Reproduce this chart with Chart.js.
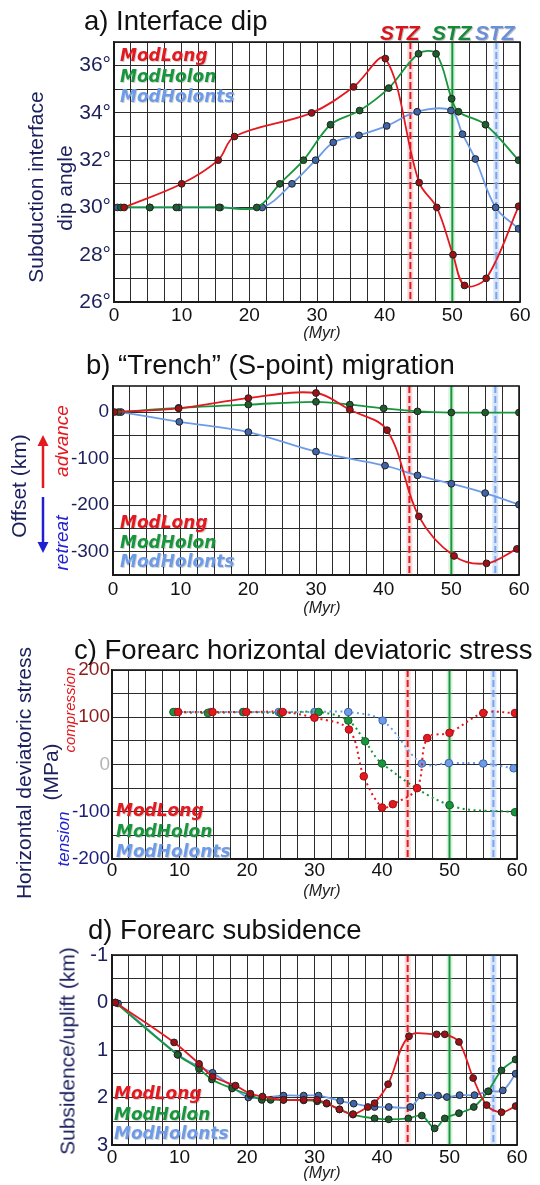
<!DOCTYPE html>
<html><head><meta charset="utf-8">
<script src="https://cdn.jsdelivr.net/npm/chart.js@4.4.1/dist/chart.umd.min.js"></script>
<style>
body{margin:0;background:#fff;}
#wrap{position:relative;width:540px;height:1185px;overflow:hidden;font-family:'Liberation Sans',Arial,sans-serif;}
canvas{position:absolute;left:0;}
.t{position:absolute;white-space:nowrap;line-height:1;}
.title{font-size:27.5px;color:#111;}
.rot{transform:translate(-50%,-50%) rotate(-90deg);}
.yt{font-size:21px;color:#1b1f5c;}
.leg{font-family:'DejaVu Sans',sans-serif;font-weight:bold;font-style:italic;font-size:17px;text-shadow:1px 1px 0 rgba(0,0,0,0.18);}
.myr{font-size:16px;font-style:italic;color:#222;transform:translateX(-50%);}
.stz{font-weight:bold;font-style:italic;font-size:21px;text-shadow:1px 1px 0 rgba(0,0,0,0.25);}
</style></head>
<body><div id="wrap">
<canvas id="cA" width="540" height="345" style="top:0px"></canvas>
<canvas id="cB" width="540" height="275" style="top:345px"></canvas>
<canvas id="cC" width="540" height="265" style="top:620px"></canvas>
<canvas id="cD" width="540" height="300" style="top:885px"></canvas>

<div class="t title" style="left:84px;top:7px">a) Interface dip</div>
<div class="t title" style="left:86px;top:351px">b) “Trench” (S-point) migration</div>
<div class="t title" style="left:74px;top:636px">c) Forearc horizontal deviatoric stress</div>
<div class="t title" style="left:88px;top:916px">d) Forearc subsidence</div>

<div class="t stz" style="left:380px;top:22px;color:#d9151c">STZ</div>
<div class="t stz" style="left:432px;top:22px;color:#178a3a">STZ</div>
<div class="t stz" style="left:475px;top:22px;color:#6a8fd9">STZ</div>

<div class="t yt rot" style="left:35px;top:187px">Subduction interface</div>
<div class="t yt rot" style="left:64px;top:188px">dip angle</div>
<div class="t yt rot" style="left:18px;top:486px">Offset (km)</div>
<div class="t rot" style="left:61px;top:441px;font-size:19px;font-style:italic;color:#e3191f">advance</div>
<div class="t rot" style="left:61px;top:543px;font-size:19px;font-style:italic;color:#2020d0">retreat</div>
<svg style="position:absolute;left:34px;top:432px" width="18" height="126">
  <line x1="9" y1="56" x2="9" y2="10" stroke="#e3191f" stroke-width="2.5"/>
  <polygon points="9,3 3.5,14 14.5,14" fill="#e3191f"/>
  <line x1="9" y1="65" x2="9" y2="112" stroke="#2020d0" stroke-width="2.5"/>
  <polygon points="9,121 3.5,110 14.5,110" fill="#2020d0"/>
</svg>
<div class="t yt rot" style="left:23px;top:773px">Horizontal deviatoric stress</div>
<div class="t yt rot" style="left:50px;top:772px">(MPa)</div>
<div class="t rot" style="left:69px;top:710px;font-size:15px;font-style:italic;color:#e3191f">compression</div>
<div class="t rot" style="left:63px;top:839px;font-size:17px;font-style:italic;color:#2020d0">tension</div>
<div class="t yt rot" style="left:67px;top:1051px">Subsidence/uplift (km)</div>

<div class="t myr" style="left:322px;top:325px">(Myr)</div>
<div class="t myr" style="left:322px;top:600px">(Myr)</div>
<div class="t myr" style="left:322px;top:883px">(Myr)</div>
<div class="t myr" style="left:322px;top:1165px">(Myr)</div>

<div class="t leg" style="left:120px;top:47px;color:#e3191f">ModLong</div>
<div class="t leg" style="left:120px;top:68px;color:#17963c">ModHolon</div>
<div class="t leg" style="left:120px;top:88px;color:#6d9be8">ModHolonts</div>
<div class="t leg" style="left:120px;top:514px;color:#e3191f">ModLong</div>
<div class="t leg" style="left:120px;top:534px;color:#17963c">ModHolon</div>
<div class="t leg" style="left:120px;top:553px;color:#6d9be8">ModHolonts</div>
<div class="t leg" style="left:116px;top:802px;color:#e3191f">ModLong</div>
<div class="t leg" style="left:116px;top:823px;color:#17963c">ModHolon</div>
<div class="t leg" style="left:116px;top:843px;color:#6d9be8">ModHolonts</div>
<div class="t leg" style="left:114px;top:1085px;color:#e3191f">ModLong</div>
<div class="t leg" style="left:114px;top:1106px;color:#17963c">ModHolon</div>
<div class="t leg" style="left:114px;top:1125px;color:#6d9be8">ModHolonts</div>
</div>
<script>
// ---------- data ----------
const stzX = [43.8, 50, 56.5];

// a) Interface dip (degrees)
const aLongX = [1.5, 10, 15.4, 17.8, 29.2, 35.4, 40.1, 45.1, 47.7, 50.1, 51.8, 55, 59.8];
const aLongY = [30, 31, 32, 33, 34, 35.1, 36.3, 31.05, 30, 28, 26.7, 27, 30.05];
const aHolonX = [1, 5.3, 9.2, 15.5, 21.1, 24.5, 28, 32, 36.3, 40.6, 45, 47.6, 49.9, 50.9, 54.9, 59.8];
const aHolonY = [30, 30, 30, 30, 30, 31, 32, 33.5, 34.1, 35.05, 36.5, 36.5, 34.6, 34.05, 33.5, 32];
const aHolontsX = [0.5, 5.3, 9.6, 15.7, 21.9, 26.3, 29.8, 32.4, 36.2, 40.3, 44.8, 49.8, 51.5, 53.4, 56.4, 59.8];
const aHolontsY = [30, 30, 30, 30, 30, 31, 32, 32.75, 33.05, 33.45, 34.05, 34.1, 33.1, 32.05, 30, 29.1];

// b) Trench migration (km)
const bLongX = [0.2, 9.7, 20, 30, 35, 40.5, 45.2, 50.4, 55.2, 59.7];
const bLongY = [0, 8, 30, 41, 5, -39, -224, -309, -325, -294];
const bHolonX = [0.8, 9.7, 20, 30, 35, 40, 45, 50, 55, 60];
const bHolonY = [0, 9, 16, 22, 16, 8, 1.5, -1, -1, -1];
const bHolontsX = [1.2, 9.8, 20, 30, 40.2, 45, 50, 55, 60];
const bHolontsY = [0, -21, -43, -85, -115, -136, -154, -174, -199];
const bGridY = [-350, -300, -250, -200, -150, -100, -50, 0];

// c) Forearc stress (MPa)
const cLongX = [9.8, 14.9, 19.9, 25.3, 30, 35.1, 37.3, 40, 41.6, 45.2, 46.7, 50, 55, 59.7];
const cLongY = [111, 111, 111, 111, 99, 74, -25, -91, -84, -50, 56, 67, 109, 109];
const cHolonX = [9.1, 14.2, 19.5, 25, 30.6, 35, 37.5, 40, 50, 59.7];
const cHolonY = [111, 109, 111, 109, 111, 93, 49, 2, -86, -101];
const cHolontsX = [9.4, 14.6, 19.4, 24.7, 30, 35, 40.1, 45.9, 49.9, 55, 59.5];
const cHolontsY = [111, 111, 111, 111, 111, 111, 93, 2, 3, 2, -8];

// d) Forearc subsidence (km, positive = subsidence)
const dLongX = [0.5, 9.2, 12.9, 14.9, 18.3, 20.5, 22.3, 25.4, 28.4, 30.4, 31.8, 33.7, 35.7, 37.9, 38.9, 40.9, 44, 48.1, 49.3, 51.4, 53.5, 55.5, 57.7, 59.8];
const dLongY = [0, 0.84, 1.29, 1.56, 1.75, 1.92, 1.98, 2.05, 2.05, 2.05, 2.12, 2.25, 2.35, 2.2, 2.12, 1.72, 0.71, 0.67, 0.67, 0.83, 1.59, 2.16, 2.31, 2.18];
const dHolonX = [0.5, 9.7, 12.9, 14.8, 17.8, 20.5, 22.2, 23.5, 25.4, 28.4, 30.4, 31.8, 33.7, 35.7, 38.9, 41, 43.9, 45.9, 47.8, 49.3, 51.4, 53.6, 55.7, 57.7, 59.8];
const dHolonY = [0, 1.1, 1.4, 1.62, 1.81, 1.95, 2.05, 2.05, 2.05, 2.06, 2.08, 2.13, 2.25, 2.36, 2.44, 2.46, 2.44, 2.38, 2.65, 2.44, 2.33, 2.2, 1.87, 1.43, 1.2];
const dHolontsX = [0.9, 9.8, 12.9, 14.9, 17.8, 20.2, 22.3, 25.4, 28.4, 30.6, 33.8, 35.8, 38.9, 41, 44.2, 45.9, 48.3, 49.6, 51.5, 53.7, 55.8, 57.9, 59.8];
const dHolontsY = [0.02, 1.1, 1.35, 1.48, 1.77, 2.0, 2.0, 1.96, 1.96, 1.96, 2.07, 2.13, 2.2, 2.2, 2.2, 1.96, 1.96, 1.99, 1.95, 1.95, 1.87, 1.85, 1.5];

// ---------- styles ----------
const RED = '#e3191f', GREEN = '#17963c', BLUE = '#6d9be8';
const RED_PT = '#a01015', GREEN_PT = '#1c5e2c', BLUE_PT = '#3f64a8';
const stzLine = ['#e3191f', '#17963c', '#7aa5ee'];
const stzBand = ['rgba(240,150,150,0.35)', 'rgba(150,220,160,0.35)', 'rgba(170,200,245,0.45)'];
const stzDash = [[7, 3], [], [7, 3]];
const NAVY = '#1b1f5c';
const FONT = "'Liberation Sans', Arial, sans-serif";
const XFONT = "'Liberation Sans Narrow', 'Liberation Sans', Arial, sans-serif";

const stzPlugin = {
  id: 'stz',
  beforeDatasetsDraw(c) {
    const xs = c.scales.x, a = c.chartArea, ctx = c.ctx;
    stzX.forEach((v, i) => {
      const px = xs.getPixelForValue(v);
      ctx.save();
      ctx.fillStyle = stzBand[i];
      ctx.fillRect(px - 3, a.top, 6, a.bottom - a.top);
      ctx.strokeStyle = stzLine[i];
      ctx.lineWidth = 2;
      ctx.setLineDash(stzDash[i]);
      ctx.beginPath(); ctx.moveTo(px, a.top); ctx.lineTo(px, a.bottom); ctx.stroke();
      ctx.restore();
    });
  }
};
const framePlugin = {
  id: 'frame',
  afterDatasetsDraw(c) {
    const a = c.chartArea, ctx = c.ctx;
    ctx.save(); ctx.strokeStyle = '#1a1a1a'; ctx.lineWidth = 1.6;
    ctx.strokeRect(a.left, a.top, a.right - a.left, a.bottom - a.top);
    ctx.restore();
  }
};

function ser(xs, ys, color, pt, dotted) {
  return {
    data: xs.map((x, i) => ({ x: x, y: ys[i] })),
    borderColor: color,
    backgroundColor: dotted ? color : pt,
    pointBackgroundColor: dotted ? color : pt,
    pointBorderColor: dotted ? pt : '#222',
    pointBorderWidth: 1,
    pointRadius: dotted ? 3.8 : 3.4,
    borderWidth: dotted ? 2 : 1.8,
    borderDash: dotted ? [2, 3.5] : [],
    fill: false,
    tension: 0.35
  };
}

function mk(id, o) {
  return new Chart(document.getElementById(id), {
    type: 'line',
    data: { datasets: o.datasets },
    options: {
      responsive: false, animation: false, devicePixelRatio: 1,
      layout: { padding: { top: o.padTop, right: o.padRight, left: 0, bottom: 0 } },
      plugins: { legend: { display: false }, tooltip: { enabled: false } },
      scales: {
        x: {
          type: 'linear', min: 0, max: 60,
          afterFit: s => { s.height = o.xh; },
          ticks: { stepSize: 2.5, autoSkip: false, maxRotation: 0, padding: o.xpad, color: '#111',
                   font: { family: XFONT, size: 19 },
                   callback: v => (Math.abs(v % 10) < 1e-6 ? String(v) : '') },
          grid: { color: '#2b2b2b', lineWidth: 1, drawTicks: false },
          border: { color: '#1a1a1a', width: 1.5 }
        },
        y: Object.assign({
          type: 'linear',
          afterFit: s => { s.width = o.left; },
          grid: { color: '#2b2b2b', lineWidth: 1, drawTicks: false },
          border: { color: '#1a1a1a', width: 1.5 }
        }, o.y)
      }
    },
    plugins: [stzPlugin, framePlugin]
  });
}

// a)
mk('cA', {
  padTop: 42, padRight: 20, left: 114, xh: 43, xpad: 2,
  datasets: [ser(aLongX, aLongY, RED, RED_PT), ser(aHolonX, aHolonY, GREEN, GREEN_PT), ser(aHolontsX, aHolontsY, BLUE, BLUE_PT)],
  y: { min: 26, max: 37,
       ticks: { stepSize: 1, autoSkip: false, padding: 3, color: NAVY, font: { family: FONT, size: 21 },
                callback: v => (v % 2 === 0 ? v + '°' : '') } }
});
// b)
mk('cB', {
  padTop: 41, padRight: 21, left: 113, xh: 45, xpad: 3,
  datasets: [ser(bLongX, bLongY, RED, RED_PT), ser(bHolonX, bHolonY, GREEN, GREEN_PT), ser(bHolontsX, bHolontsY, BLUE, BLUE_PT)],
  y: { min: -350, max: 56,
       afterBuildTicks: s => { s.ticks = bGridY.map(v => ({ value: v })); },
       ticks: { autoSkip: false, padding: 4, color: NAVY, font: { family: FONT, size: 19 },
                callback: v => (v % 100 === 0 ? String(v) : '') } }
});
// c)
mk('cC', {
  padTop: 50, padRight: 23, left: 112, xh: 26, xpad: 0,
  datasets: [ser(cLongX, cLongY, RED, RED_PT, true), ser(cHolonX, cHolonY, GREEN, GREEN_PT, true), ser(cHolontsX, cHolontsY, BLUE, BLUE_PT, true)],
  y: { min: -200, max: 200,
       ticks: { stepSize: 50, autoSkip: false, padding: 2, font: { family: FONT, size: 19 },
                color: ctx => (ctx.tick.value > 0 ? '#8a1c1c' : ctx.tick.value === 0 ? '#b4b4b4' : '#1c1c7a'),
                callback: v => (v % 100 === 0 ? String(v) : '') } }
});
// d)
mk('cD', {
  padTop: 70, padRight: 23, left: 112, xh: 40, xpad: 1,
  datasets: [ser(dLongX, dLongY, RED, RED_PT), ser(dHolonX, dHolonY, GREEN, GREEN_PT), ser(dHolontsX, dHolontsY, BLUE, BLUE_PT)],
  y: { min: -1, max: 3, reverse: true,
       ticks: { stepSize: 0.5, autoSkip: false, padding: 4, color: NAVY, font: { family: FONT, size: 20 },
                callback: v => (Number.isInteger(v) ? String(v) : '') } }
});
</script>
</body></html>
